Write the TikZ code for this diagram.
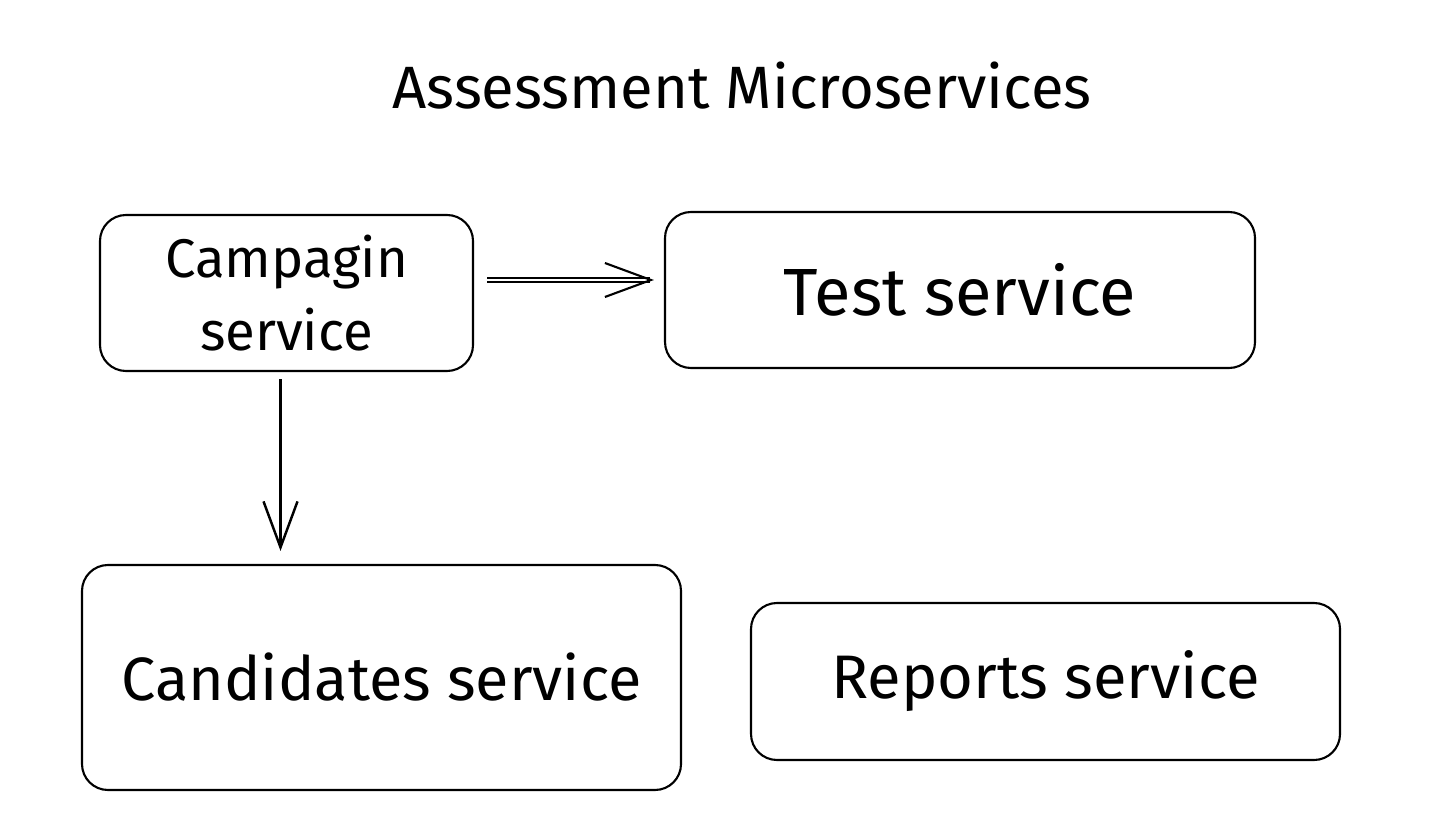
\documentclass[tikz,border=0pt]{standalone}
\usepackage{fontspec}
\setmainfont{Fira Sans}
\usetikzlibrary{positioning}
\usetikzlibrary{arrows.meta}
\tikzstyle{service}=[draw, rounded corners=2.6mm, line width=0.6pt, align=center, inner sep=0pt]
\tikzstyle{flow}=[-{Straight Barb[length=4.6mm,width=3.4mm]}, line width=0.6pt, double distance=0.5pt]

\begin{document}
\begin{tikzpicture}

   \useasboundingbox[fill=white] (0,0) rectangle (14.33,-8.35);

   \node[font=\fontsize{17}{20}\selectfont] (title) at (7.42,-0.86) {Assessment Microservices};

    \foreach \pos/\name/\w/\h/\fs/\txt in {{(2.865,-2.93)/camp/3.73/1.56/15.5/Campagin\\service}, {(9.6,-2.9)/test/5.9/1.56/19/Test service}, {(3.815,-6.775)/cand/5.99/2.25/17.4/Candidates service}, {(10.455,-6.815)/rep/5.89/1.57/17.5/Reports service}}
        \node[service, minimum width=\w cm, minimum height=\h cm, font=\fontsize{\fs}{21}\selectfont] (\name) at \pos {\txt};

\draw[flow, shorten <=1.3mm, shorten >=1mm] ([yshift=1.3mm]camp.east) -- ([yshift=1.3mm]camp.east -| test.west);
\draw[-{Straight Barb[length=4.6mm,width=3.4mm]}, line width=0.7pt, shorten <=0.7mm, shorten >=1.3mm] ([xshift=-0.6mm]camp.south) -- ([xshift=-0.6mm]camp.south |- cand.north);

\end{tikzpicture}
\end{document}
